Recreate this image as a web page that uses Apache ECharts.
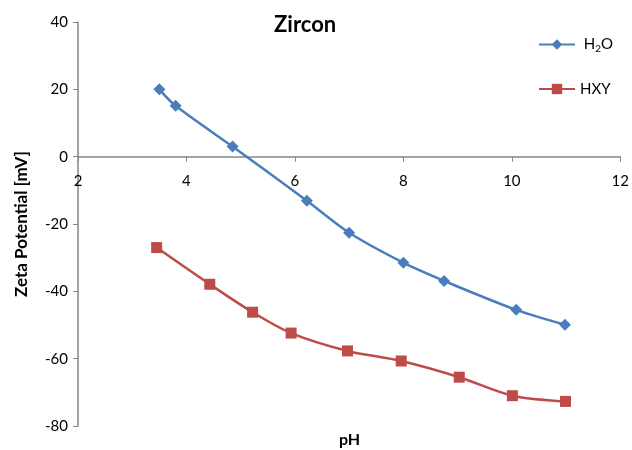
<!DOCTYPE html>
<html><head><meta charset="utf-8">
<script src="https://cdn.jsdelivr.net/npm/echarts@6/dist/echarts.min.js"></script>
<style>html,body{margin:0;padding:0;background:#fff}#c{width:632px;height:450px}</style>
</head><body><div id="c"></div>
<script>
const h2oPH = [3.5, 3.8, 4.85, 6.22, 7.0, 8.0, 8.75, 10.08, 10.98];
const h2oZeta = [20, 15.1, 3, -13.1, -22.6, -31.5, -36.9, -45.5, -49.9];
const hxyPH = [3.45, 4.43, 5.22, 5.93, 6.97, 7.96, 9.03, 10.01, 10.99];
const hxyZeta = [-27, -37.9, -46.2, -52.4, -57.7, -60.7, -65.5, -71.0, -72.7];
const seriesNames = ['H2O', 'HXY'];
const titleText = 'Zircon';
const xAxisTitle = 'pH';
const yAxisTitle = 'Zeta Potential [mV]';
const yMin = -80, yMax = 40, xCrossAt = 0;

const font = 'Lato, "Open Sans", sans-serif';
const gridTop = 22, gridBottom = 24, chartH = 450;
const plotH = chartH - gridTop - gridBottom;
const xAxisOffset = -plotH * (xCrossAt - yMin) / (yMax - yMin);

const chart = echarts.init(document.getElementById('c'));
chart.setOption({
  animation: false,
  title: { text: titleText, left: 269, top: 9, textStyle: { fontFamily: font, fontSize: 22, fontWeight: 'bold', color: '#000' } },
  legend: {
    orient: 'vertical', left: 533, top: 32, itemGap: 28, itemWidth: 36, itemHeight: 13,
    data: seriesNames,
    formatter: function (n) { return n === 'H2O' ? ' H{sub|2}O' : n; },
    textStyle: { fontFamily: font, fontSize: 15, color: '#000', rich: { sub: { fontSize: 10, verticalAlign: 'bottom', padding: [8, 0, 0, 0], fontFamily: font } } }
  },
  grid: { left: 78, right: 10, top: gridTop, bottom: gridBottom },
  xAxis: {
    type: 'value', min: 2, max: 12, interval: 2, offset: xAxisOffset,
    axisLine: { onZero: false, lineStyle: { color: '#868686', width: 1.5 } },
    axisTick: { show: true, length: 5, inside: false, lineStyle: { color: '#868686' } },
    axisLabel: { margin: 17, fontFamily: font, fontSize: 15, color: '#000' },
    splitLine: { show: false }
  },
  yAxis: {
    type: 'value', min: yMin, max: yMax, interval: 20,
    axisLine: { show: true, lineStyle: { color: '#868686', width: 1.5 } },
    axisTick: { show: true, length: 5, lineStyle: { color: '#868686' } },
    axisLabel: { margin: 10, fontFamily: font, fontSize: 15, color: '#000' },
    splitLine: { show: false },
    name: yAxisTitle, nameLocation: 'middle', nameGap: 48, nameRotate: 90,
    nameTextStyle: { fontFamily: font, fontSize: 17, fontWeight: 'bold', color: '#000' }
  },
  graphic: [{ type: 'text', left: 339, top: 432, style: { text: xAxisTitle, font: 'bold 16px ' + font, fill: '#000' } }],
  series: [
    { name: seriesNames[0], type: 'line', smooth: 0.3, data: h2oPH.map((x, i) => [x, h2oZeta[i]]),
      symbol: 'diamond', symbolSize: 12, lineStyle: { color: '#4a7ebb', width: 2.5 }, itemStyle: { color: '#4a7ebb' } },
    { name: seriesNames[1], type: 'line', smooth: 0.3, data: hxyPH.map((x, i) => [x, hxyZeta[i]]),
      symbol: 'rect', symbolSize: 11, lineStyle: { color: '#be4b48', width: 2.5 }, itemStyle: { color: '#be4b48' } }
  ]
});
</script></body></html>
